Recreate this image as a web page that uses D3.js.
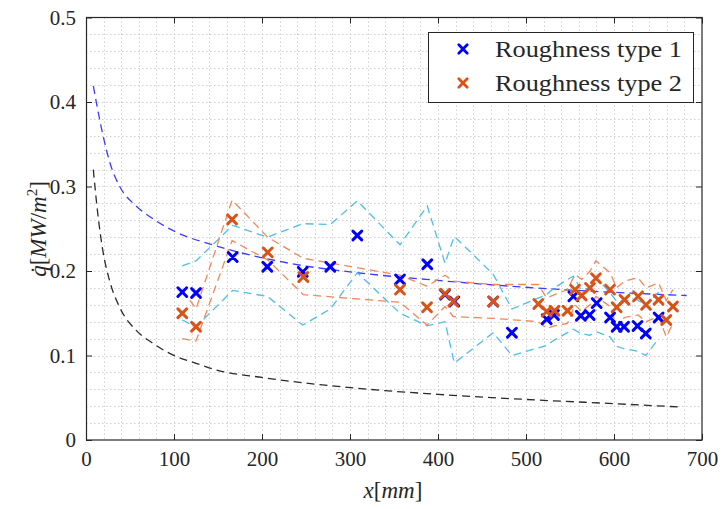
<!DOCTYPE html>
<html>
<head>
<meta charset="utf-8">
<script src="https://cdn.jsdelivr.net/npm/d3@7"></script>
<style>
  html, body { margin: 0; padding: 0; background: #fff; }
  svg { display: block; }
  svg text { font-family: "Liberation Serif", "Times New Roman", Tinos, serif; }
</style>
</head>
<body>
<svg id="chart" width="724" height="509"></svg>
<script>
// Axis ticks
const xTicks = [0, 100, 200, 300, 400, 500, 600, 700];
const yTicks = [0, 0.1, 0.2, 0.3, 0.4, 0.5];
const yTickLabels = ["0", "0.1", "0.2", "0.3", "0.4", "0.5"];

// Roughness type 1 measurements (x in mm, heat flux in MW/m^2) with band limits
const type1X     = [109.4, 125, 166.7, 206, 246.3, 277.6, 308.3, 356.8, 387.8, 408, 418.5, 462.8, 484, 523.5, 531.8, 553.8, 562.3, 572.3, 580.3, 595.5, 603, 611.4, 626.7, 636.1, 650.7];
const type1Q     = [0.175, 0.174, 0.2165, 0.205, 0.199, 0.205, 0.242, 0.190, 0.208, 0.172, 0.164, 0.164, 0.127, 0.143, 0.148, 0.170, 0.147, 0.148, 0.162, 0.145, 0.134, 0.134, 0.135, 0.126, 0.145];
const type1Upper = [0.206, 0.212, 0.254, 0.240, 0.256, 0.255, 0.283, 0.231, 0.277, 0.209, 0.241, 0.196, 0.155, 0.172, 0.180, 0.194, 0.178, 0.180, 0.192, 0.174, 0.164, 0.165, 0.166, 0.158, 0.175];
const type1Lower = [0.142, 0.134, 0.177, 0.170, 0.136, 0.155, 0.198, 0.150, 0.135, 0.140, 0.091, 0.127, 0.100, 0.112, 0.118, 0.131, 0.126, 0.124, 0.128, 0.122, 0.111, 0.108, 0.105, 0.100, 0.120];

// Roughness type 2 measurements with band limits
const type2X     = [109.4, 125, 166, 206.5, 247, 356.8, 387.5, 408, 417.4, 462.8, 514, 523.5, 532.4, 547.2, 555.7, 563.3, 572.7, 579.5, 595.5, 603, 611.9, 627.3, 636.4, 650.6, 659.4, 667];
const type2Q     = [0.150, 0.134, 0.261, 0.222, 0.193, 0.178, 0.157, 0.173, 0.164, 0.164, 0.161, 0.152, 0.153, 0.153, 0.178, 0.171, 0.180, 0.1915, 0.178, 0.157, 0.166, 0.170, 0.160, 0.166, 0.142, 0.158];
const type2Upper = [0.178, 0.155, 0.284, 0.240, 0.215, 0.195, 0.182, 0.195, 0.188, 0.184, 0.184, 0.168, 0.172, 0.178, 0.196, 0.190, 0.200, 0.212, 0.198, 0.180, 0.188, 0.192, 0.180, 0.186, 0.165, 0.178];
const type2Lower = [0.120, 0.117, 0.236, 0.213, 0.172, 0.163, 0.136, 0.158, 0.146, 0.144, 0.140, 0.132, 0.135, 0.138, 0.160, 0.152, 0.160, 0.170, 0.158, 0.135, 0.145, 0.148, 0.140, 0.146, 0.122, 0.138];

// Correlation curves (turbulent in blue, laminar in black)
const turbX = [8.3, 19, 28.4, 37.8, 56.8, 75.8, 102.3, 144, 231.8, 307.6, 387.2, 525.3, 682.6];
const turbQ = [0.419, 0.362, 0.324, 0.301, 0.277, 0.262, 0.246, 0.231, 0.209, 0.198, 0.190, 0.179, 0.171];
const lamX  = [8.3, 13.3, 19, 26.5, 37.8, 56.8, 75.8, 98.5, 125, 147.7, 200, 300, 400, 500, 600, 676];
const lamQ  = [0.320, 0.2686, 0.225, 0.1896, 0.158, 0.130, 0.1146, 0.1007, 0.0908, 0.083, 0.074, 0.062, 0.054, 0.048, 0.043, 0.039];

const seriesNames = ["Roughness type 1", "Roughness type 2"];

const SERIF = '"Liberation Serif", "Times New Roman", Tinos, serif';
const C = {
  axis: "#262626",
  grid: "#cfcfcf",
  blue: "#0000ff",
  orange: "#d95319",
  lightBlue: "#4dbeee",
  lightOrange: "#f4875a",
  turb: "#3b3bff",
  lam: "#2a2a2a"
};

const svg = d3.select("#chart");
const pL = 86, pR = 702, pT = 17.5, pB = 440;
const x = d3.scaleLinear().domain([0, 700]).range([pL, pR]);
const y = d3.scaleLinear().domain([0, 0.5]).range([pB, pT]);

// Minor + major dotted grid
const gridX = d3.range(20, 700, 20);
const gridY = d3.range(0.02, 0.5, 0.02);
const grid = svg.append("g").attr("stroke", C.grid).attr("stroke-width", 1).attr("stroke-dasharray", "1.5,2.5");
grid.selectAll("line.gx").data(gridX).join("line")
  .attr("x1", d => Math.round(x(d)) + 0.5).attr("x2", d => Math.round(x(d)) + 0.5)
  .attr("y1", pT).attr("y2", pB);
grid.selectAll("line.gy").data(gridY).join("line")
  .attr("y1", d => Math.round(y(d)) + 0.5).attr("y2", d => Math.round(y(d)) + 0.5)
  .attr("x1", pL).attr("x2", pR);

svg.append("clipPath").attr("id", "plotClip")
  .append("rect").attr("x", pL).attr("y", pT).attr("width", pR - pL).attr("height", pB - pT);

const plot = svg.append("g").attr("clip-path", "url(#plotClip)");

const smooth = d3.line().x(d => x(d[0])).y(d => y(d[1])).curve(d3.curveMonotoneX);
const poly = d3.line().x(d => x(d[0])).y(d => y(d[1]));

// Correlation curves
plot.append("path").datum(d3.zip(lamX, lamQ))
  .attr("d", smooth).attr("fill", "none").attr("stroke", C.lam)
  .attr("stroke-width", 1.3).attr("stroke-dasharray", "8,5");
plot.append("path").datum(d3.zip(turbX, turbQ))
  .attr("d", smooth).attr("fill", "none").attr("stroke", C.turb)
  .attr("stroke-width", 1.3).attr("stroke-dasharray", "8,5");

// Band limits
[[type1X, type1Upper, C.lightBlue], [type1X, type1Lower, C.lightBlue],
 [type2X, type2Upper, C.lightOrange], [type2X, type2Lower, C.lightOrange]].forEach(([xs, ys, col]) => {
  plot.append("path").datum(d3.zip(xs, ys))
    .attr("d", poly).attr("fill", "none").attr("stroke", col)
    .attr("stroke-width", 1.3).attr("stroke-dasharray", "8,5");
});

// Cross markers
const cross = s => `M${-s},${-s}L${s},${s}M${-s},${s}L${s},${-s}`;
function drawMarkers(xs, ys, col) {
  plot.append("g").selectAll("path").data(d3.zip(xs, ys)).join("path")
    .attr("transform", d => `translate(${x(d[0])},${y(d[1])})`)
    .attr("d", cross(4.4)).attr("fill", "none")
    .attr("stroke", col).attr("stroke-width", 3).attr("stroke-linecap", "round");
}
drawMarkers(type1X, type1Q, C.blue);
drawMarkers(type2X, type2Q, C.orange);

// Axes: inward ticks on all four sides, labels on bottom and left
function styleAxis(g) {
  g.attr("font-family", SERIF).attr("font-size", 21);
  g.select(".domain").remove();
  g.selectAll(".tick line").attr("stroke", C.axis);
  g.selectAll(".tick text").attr("fill", C.axis)
    .attr("font-family", SERIF).style("font-family", SERIF).style("font-size", "21px");
}
svg.append("g").attr("transform", `translate(0,${pB})`)
  .call(d3.axisBottom(x).tickValues(xTicks).tickSize(-6).tickPadding(11).tickFormat(d3.format("d")))
  .call(styleAxis);
svg.append("g").attr("transform", `translate(${pL},0)`)
  .call(d3.axisLeft(y).tickValues(yTicks).tickSize(-6).tickPadding(10).tickFormat((d, i) => yTickLabels[i]))
  .call(styleAxis);
svg.append("g").attr("transform", `translate(0,${pT})`)
  .call(d3.axisTop(x).tickValues(xTicks).tickSize(-6).tickFormat(""))
  .call(styleAxis);
svg.append("g").attr("transform", `translate(${pR},0)`)
  .call(d3.axisRight(y).tickValues(yTicks).tickSize(-6).tickFormat(""))
  .call(styleAxis);

svg.append("rect").attr("x", pL + 0.5).attr("y", pT).attr("width", pR - pL - 0.5).attr("height", pB - pT)
  .attr("fill", "none").attr("stroke", C.axis).attr("stroke-width", 1.2);

// Axis titles
const xl = svg.append("text").attr("x", 393).attr("y", 498).attr("text-anchor", "middle")
  .attr("font-family", SERIF).attr("fill", C.axis).style("font-size", "23px");
xl.append("tspan").attr("font-style", "italic").text("x");
xl.append("tspan").text("[");
xl.append("tspan").attr("font-style", "italic").text("mm");
xl.append("tspan").text("]");

const yl = svg.append("text").attr("transform", "translate(46,229) rotate(-90)")
  .attr("text-anchor", "middle").attr("font-family", SERIF).attr("fill", C.axis).style("font-size", "23px");
yl.append("tspan").attr("font-style", "italic").text("q\u0307");
yl.append("tspan").text("[");
yl.append("tspan").attr("font-style", "italic").text("MW");
yl.append("tspan").text("/");
yl.append("tspan").attr("font-style", "italic").text("m");
yl.append("tspan").attr("dy", -9).style("font-size", "15px").text("2");
yl.append("tspan").attr("dy", 9).text("]");

// Legend
const lg = svg.append("g");
lg.append("rect").attr("x", 428.5).attr("y", 32.5).attr("width", 265).attr("height", 70)
  .attr("fill", "#fff").attr("stroke", C.axis).attr("stroke-width", 1);
[[C.blue, 49], [C.orange, 83]].forEach(([col, cy], i) => {
  lg.append("path").attr("transform", `translate(463,${cy})`).attr("d", cross(4.2))
    .attr("fill", "none").attr("stroke", col).attr("stroke-width", 2.8).attr("stroke-linecap", "round");
  lg.append("text").attr("x", 495).attr("y", cy + 8).attr("fill", C.axis).attr("font-family", SERIF)
    .attr("textLength", 187).attr("lengthAdjust", "spacingAndGlyphs")
    .style("font-size", "23px").text(seriesNames[i]);
});
</script>
</body>
</html>
